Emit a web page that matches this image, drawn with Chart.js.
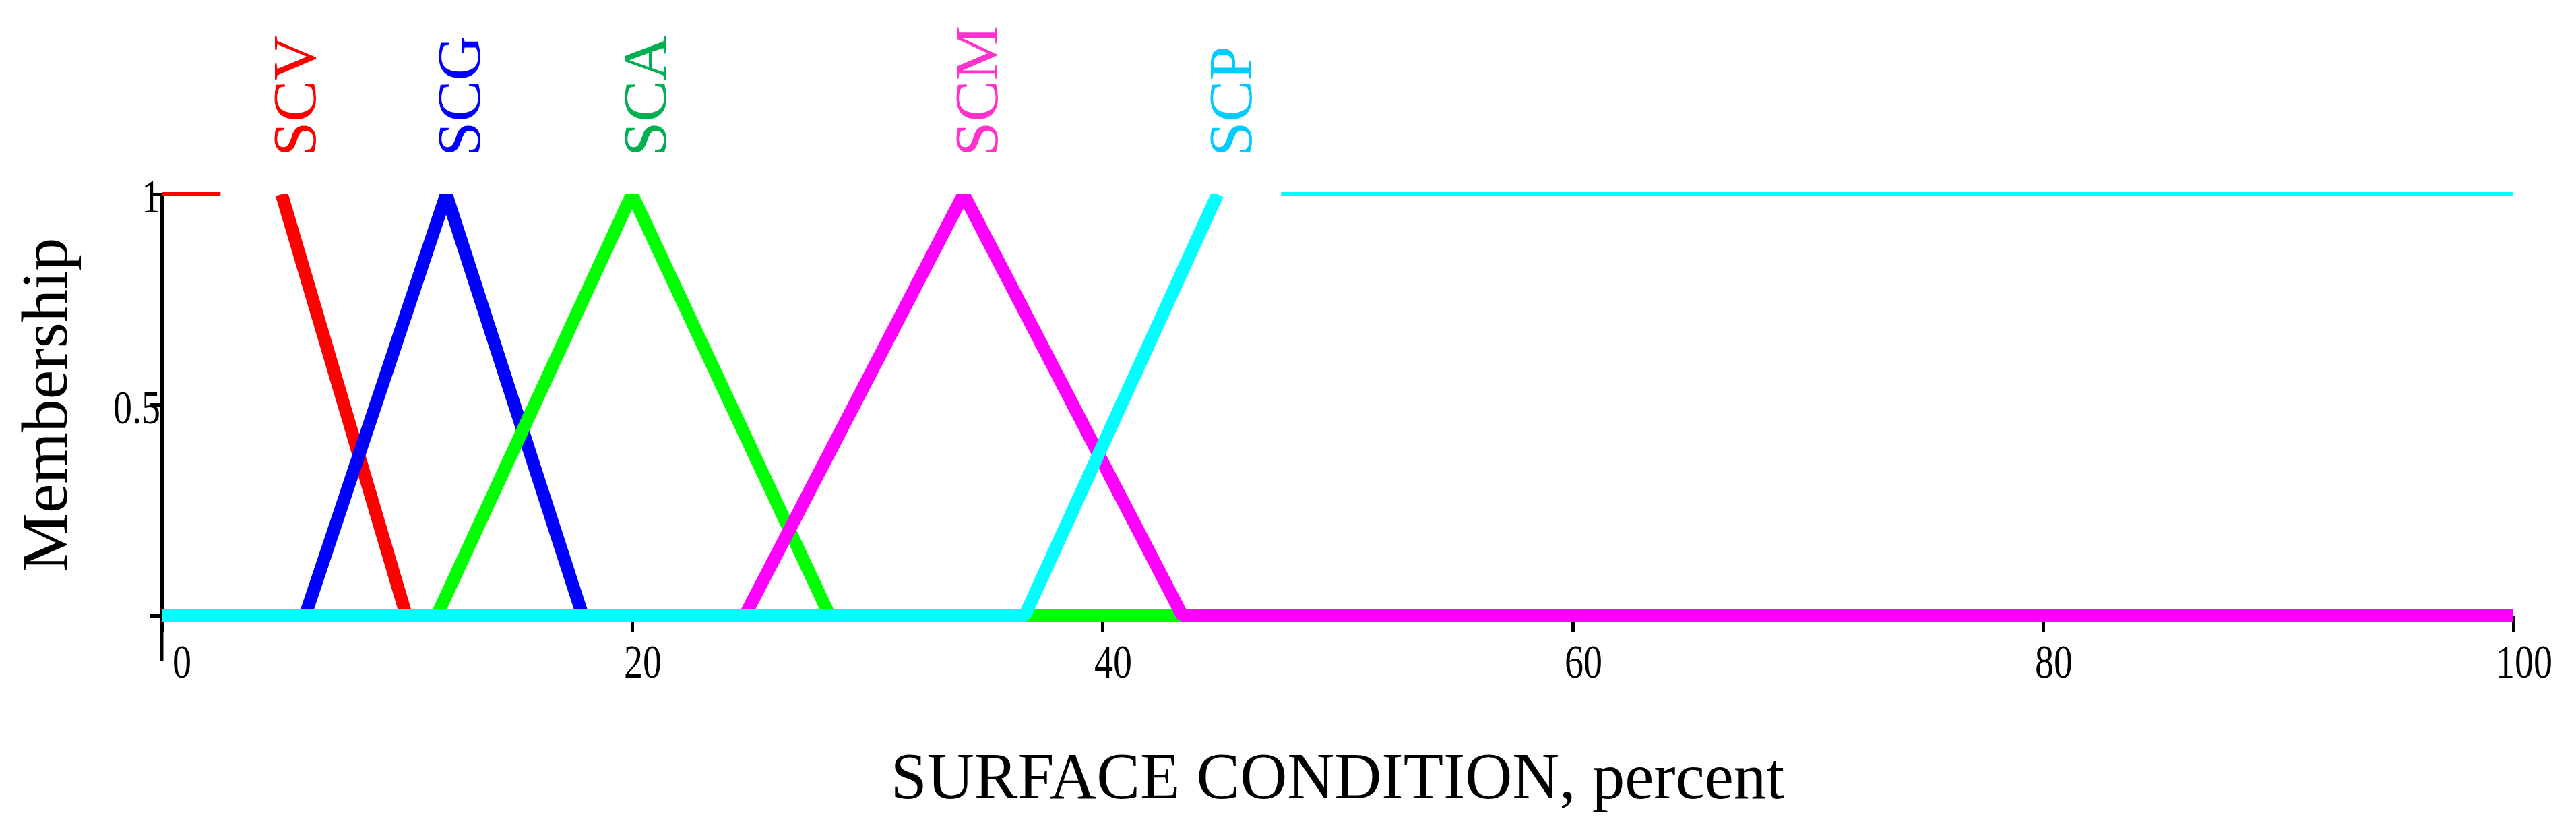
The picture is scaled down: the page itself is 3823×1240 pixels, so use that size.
<!DOCTYPE html>
<html>
<head>
<meta charset="utf-8">
<title>Surface condition membership</title>
<script src="https://cdn.jsdelivr.net/npm/chart.js@4.4.1/dist/chart.umd.min.js"></script>
<style>
  html, body { margin: 0; padding: 0; background: #fff; }
  canvas { display: block; }
</style>
</head>
<body>
<canvas id="chart" width="3823" height="1240"></canvas>
<script>
// membership functions (x = percent, y = membership)
const scvX = [5.1, 10.4];
const scvY = [1, 0];
const scvTailX = [0, 2.5];
const scvTailY = [1, 1];
const scgX = [6.1, 12.1, 17.9];
const scgY = [0, 1, 0];
const scaX = [11.7, 20.0, 28.4, 43.4];
const scaY = [0, 1, 0, 0];
const scmX = [24.8, 34.1, 43.4, 100];
const scmY = [0, 1, 0, 0];
const scpX = [0, 36.7, 44.9];
const scpY = [0, 0, 1];
const scpTailX = [47.6, 100];
const scpTailY = [1, 1];

const xTicks = [0, 20, 40, 60, 80, 100];
const yTicks = [0, 0.5, 1];

const serif = '"Liberation Serif", "Times New Roman", serif';
const pts = (xs, ys) => xs.map((x, i) => ({ x: x, y: ys[i] }));

function thick(label, xs, ys, color, tagColor) {
  return {
    label: label,
    data: pts(xs, ys),
    borderColor: color,
    borderWidth: 19,
    pointRadius: 0,
    tension: 0,
    borderJoinStyle: 'bevel',
    clip: { left: false, top: 0, right: false, bottom: false },
    tagColor: tagColor
  };
}

function thin(label, xs, ys, color) {
  return {
    label: label,
    data: pts(xs, ys),
    borderColor: color,
    borderWidth: 6,
    pointRadius: 0,
    clip: false
  };
}

// rotated names above each curve's peak
const curveTags = {
  id: 'curveTags',
  afterDraw(chart) {
    const ctx = chart.ctx;
    const xs = chart.scales.x;
    ctx.save();
    ctx.font = '92px ' + serif;
    ctx.textAlign = 'left';
    ctx.textBaseline = 'alphabetic';
    chart.data.datasets.forEach(ds => {
      if (!ds.tagColor) return;
      const peak = ds.data.find(p => p.y === 1);
      const px = xs.getPixelForValue(peak.x) + 50;
      ctx.save();
      ctx.translate(px, 232);
      ctx.rotate(-Math.PI / 2);
      ctx.fillStyle = ds.tagColor;
      ctx.fillText(ds.label, 0, 0);
      ctx.restore();
    });
    ctx.restore();
  }
};

// tick numbers in the original are tall and narrow, so draw them stretched
const tallTicks = {
  id: 'tallTicks',
  afterDraw(chart) {
    const ctx = chart.ctx;
    const sx = chart.scales.x;
    const sy = chart.scales.y;
    const stretch = 1.25;
    const size = 56;
    const half = 0.33 * size * stretch;
    ctx.save();
    ctx.font = size + 'px ' + serif;
    ctx.fillStyle = '#000';
    ctx.textBaseline = 'alphabetic';

    ctx.textAlign = 'center';
    xTicks.forEach(v => {
      const px = sx.getPixelForValue(v) + (v === 0 ? 30 : 16);
      ctx.save();
      ctx.translate(px, sx.top + 92);
      ctx.scale(1, stretch);
      ctx.fillText(String(v), 0, 0);
      ctx.restore();
    });

    ctx.textAlign = 'right';
    yTicks.forEach(v => {
      if (v === 0) return;
      const py = sy.getPixelForValue(v) + 4 + half;
      ctx.save();
      ctx.translate(sy.right - 2, py);
      ctx.scale(1, stretch);
      ctx.fillText(String(v), 0, 0);
      ctx.restore();
    });
    ctx.restore();
  }
};

// y axis line runs a bit past the x axis, like the original
const axisStub = {
  id: 'axisStub',
  beforeDatasetsDraw(chart) {
    const ctx = chart.ctx;
    const x0 = chart.scales.x.getPixelForValue(0);
    const b = chart.chartArea.bottom;
    ctx.save();
    ctx.strokeStyle = '#000';
    ctx.lineWidth = 5;
    ctx.beginPath();
    ctx.moveTo(x0, b);
    ctx.lineTo(x0, b + 67);
    ctx.stroke();
    ctx.restore();
  }
};

new Chart(document.getElementById('chart'), {
  type: 'line',
  data: {
    datasets: [
      thick('SCP', scpX, scpY, '#00ffff', '#00ccff'),
      thin('SCP', scpTailX, scpTailY, '#00ffff'),
      thick('SCM', scmX, scmY, '#ff00ff', '#ff33cc'),
      thick('SCA', scaX, scaY, '#00ff00', '#00b050'),
      thick('SCG', scgX, scgY, '#0000ff', '#0000ff'),
      thick('SCV', scvX, scvY, '#ff0000', '#ff0000'),
      thin('SCV', scvTailX, scvTailY, '#ff0000')
    ]
  },
  options: {
    responsive: false,
    devicePixelRatio: 1,
    animation: false,
    events: [],
    layout: { padding: { top: 288, right: 93, left: 0, bottom: 0 } },
    plugins: {
      legend: { display: false },
      tooltip: { enabled: false }
    },
    scales: {
      x: {
        type: 'linear',
        min: 0,
        max: 100,
        afterBuildTicks: s => { s.ticks = xTicks.map(v => ({ value: v })); },
        afterFit: s => { s.height = 327; },
        border: { display: false },
        grid: { drawOnChartArea: false, drawTicks: true, tickLength: 25, tickWidth: 5, tickColor: '#000' },
        ticks: { display: false },
        title: {
          display: true,
          text: 'SURFACE CONDITION, percent',
          color: '#000',
          font: { family: serif, size: 97 },
          padding: { top: 0, bottom: 23 }
        }
      },
      y: {
        type: 'linear',
        min: 0,
        max: 1,
        afterBuildTicks: s => { s.ticks = yTicks.map(v => ({ value: v })); },
        afterFit: s => { s.width = 240; },
        border: { display: true, color: '#000', width: 5 },
        grid: { drawOnChartArea: false, drawTicks: true, tickLength: 18, tickWidth: 5, tickColor: '#000' },
        ticks: { display: false },
        title: {
          display: true,
          text: 'Membership',
          color: '#000',
          font: { family: serif, size: 98 },
          padding: { top: 14, bottom: 0 }
        }
      }
    }
  },
  plugins: [curveTags, tallTicks, axisStub]
});
</script>
</body>
</html>
